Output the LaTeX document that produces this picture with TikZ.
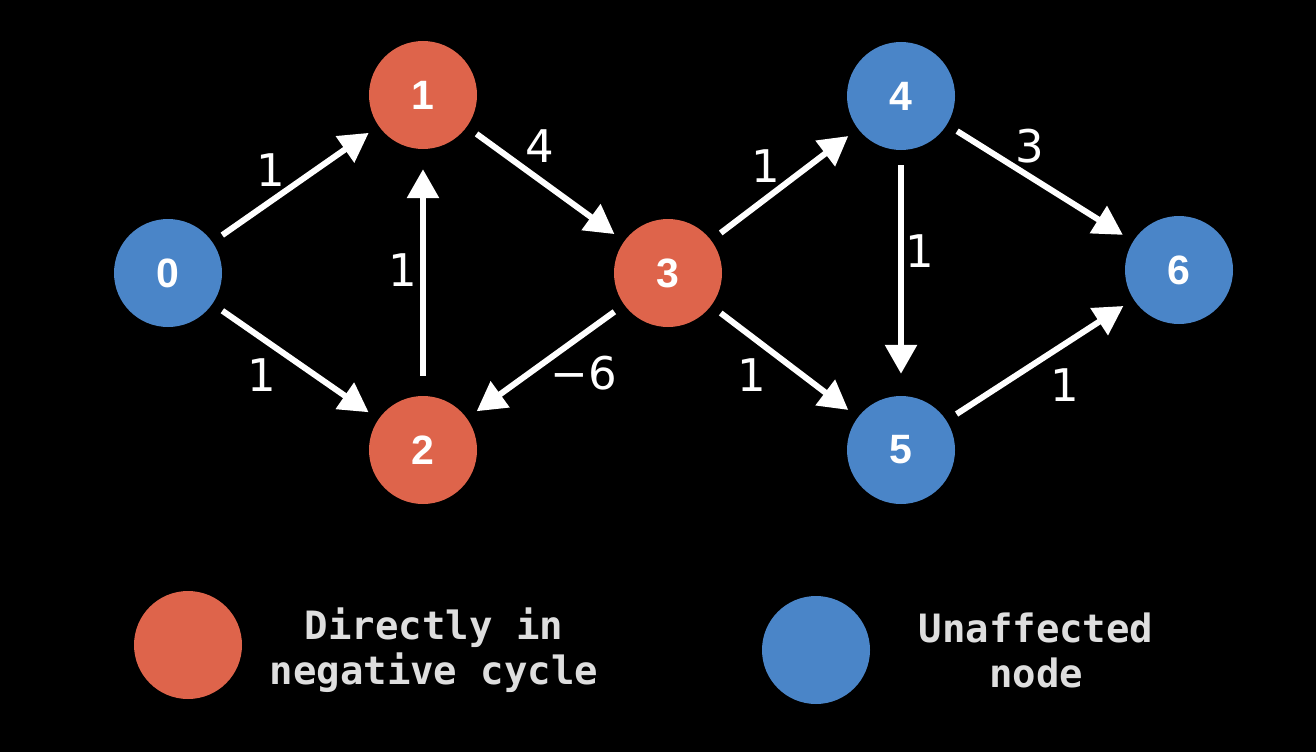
\documentclass[tikz,border=0pt]{standalone}
\usepackage{fontspec}
\setmainfont{DejaVu Sans}
\newfontfamily\nodefont{Liberation Sans}
\newfontfamily\legendfont{DejaVu Sans Mono}
\usetikzlibrary{arrows.meta}
\definecolor{nred}{RGB}{222,100,75}
\definecolor{nblue}{RGB}{74,133,200}
\definecolor{legtext}{RGB}{222,222,222}
\begin{document}
\begin{tikzpicture}[x=1pt,y=-1pt,
  vert/.style={circle, minimum size=108pt, inner sep=0pt, text=white,
    font=\nodefont\bfseries\fontsize{41}{41}\selectfont},
  rednode/.style={vert, fill=nred},
  bluenode/.style={vert, fill=nblue},
  wedge/.style={draw=white, line width=6pt, -{Triangle[length=29pt,width=31pt]},
    shorten <=12pt, shorten >=12pt},
  wlabel/.style={text=white, inner sep=0pt, font=\fontsize{45}{45}\selectfont},
  legend/.style={text=legtext, align=center, inner sep=0pt,
    font=\legendfont\bfseries\fontsize{39}{45}\selectfont}]
\fill[black] (0,0) rectangle (1316,752);
\useasboundingbox (0,0) rectangle (1316,752);

\node[bluenode] (n0) at (168,273) {0};
\node[rednode]  (n1) at (423,95) {1};
\node[rednode]  (n2) at (423,450) {2};
\node[rednode]  (n3) at (668,273) {3};
\node[bluenode] (n4) at (901,96) {4};
\node[bluenode] (n5) at (901,450) {5};
\node[bluenode] (n6) at (1179,270) {6};

\draw[wedge] (n0) -- (n1);
\draw[wedge] (n0) -- (n2);
\draw[wedge, shorten <=20pt, shorten >=20pt] (n2) -- (n1);
\draw[wedge] (n1) -- (n3);
\draw[wedge] (n3) -- (n2);
\draw[wedge] (n3) -- (n4);
\draw[wedge] (n3) -- (n5);
\draw[wedge, shorten <=15pt, shorten >=22pt] (n4) -- (n5);
\draw[wedge] (n4) -- (n6);
\draw[wedge] (n5) -- (n6);

\node[wlabel] (l01) at (271,170) {1};
\node[wlabel] (l02) at (262,375) {1};
\node[wlabel] (l21) at (403,270) {1};
\node[wlabel] (l13) at (540,146) {4};
\node[wlabel] (l32) at (584,373) {−6};
\node[wlabel] (l34) at (766,166) {1};
\node[wlabel] (l35) at (752,375) {1};
\node[wlabel] (l45) at (920,251) {1};
\node[wlabel] (l46) at (1030,146) {3};
\node[wlabel] (l56) at (1065,385) {1};

\node[rednode]  (legred)  at (188,645) {};
\node[bluenode] (legblue) at (816,650) {};
\node[legend] (legredtext) at (434,650) {Directly in\\negative cycle};
\node[legend] (legbluetext) at (1036,650) {Unaffected\\node};
\end{tikzpicture}
\end{document}
